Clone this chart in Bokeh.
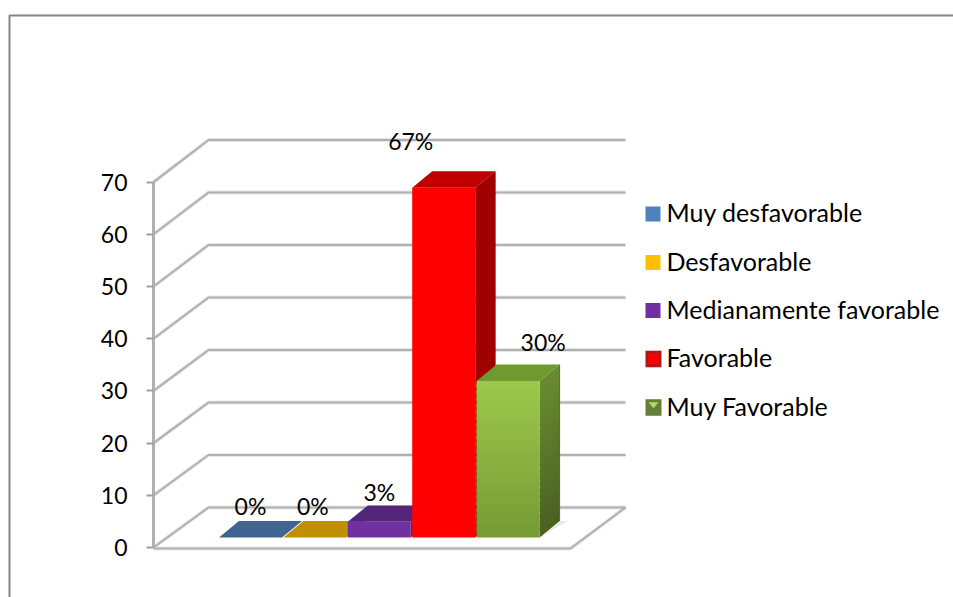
from bokeh.embed import file_html
from bokeh.resources import INLINE
from bokeh.plotting import figure
from bokeh.models import Range1d, LinearAxis, FixedTicker
from bokeh.core.properties import value

# Survey results
categories = ["Muy desfavorable", "Desfavorable", "Medianamente favorable", "Favorable", "Muy Favorable"]
values = [0, 0, 3, 67, 30]
y_ticks = [0, 10, 20, 30, 40, 50, 60, 70]

front_colors = ["#4f81bd", "#ffc000", "#7030a0", "#ff0000", "#9dc94b"]
front_bottom = ["#4f81bd", "#ffc000", "#7030a0", "#ff0000", "#779a35"]
top_colors = ["#3e648f", "#bf9000", "#54267a", "#c00000", "#6f9a30"]
side_colors = ["#3e648f", "#bf9000", "#54267a", "#a00000", "#6a8c30"]
side_bottom = ["#3e648f", "#bf9000", "#54267a", "#a00000", "#4a6022"]

W, H = 953, 597
FONT = "Lato"
FS = "25px"
FS_NUM = "23px"
Y0 = 547.0        # screen row of value 0 on the front plane
UNIT = 5.22       # pixels per unit of value, front plane
BACK_UNIT = 5.25  # pixels per unit of value, back plane
AX_X = 154.0      # screen column of the vertical axis
DEPTH_X, DEPTH_Y = 55.0, 40.0  # floor depth in pixels
FLOOR_W = 417.0
BAR_X0, BAR_STEP, BAR_W = 219.5, 64.4, 63.0
D0, D1 = 0.25, 0.66  # bar footprint as a share of the floor depth

p = figure(width=W, height=H, output_backend="svg", toolbar_location=None,
           x_range=Range1d(1, W + 1),
           y_range=Range1d((Y0 - H) / UNIT, Y0 / UNIT),
           min_border=0, outline_line_color=None, x_axis_location=None,
           y_axis_location=None, background_fill_color="white")
p.grid.visible = False


def lift(px):
    return px / UNIT


def soft_line(xs, ys, color="#b0b0b0", width=2.0):
    p.line(xs, ys, line_color=color, line_width=width + 2, line_alpha=0.3)
    p.line(xs, ys, line_color=color, line_width=width)


# Outer chart frame, cut by the page edges
top_v = (Y0 - 15) / UNIT
bot_v = (Y0 - H) / UNIT
p.line([10, 10, W + 1], [bot_v, top_v, top_v], line_color="#868686", line_width=2)

# Walls: one diagonal and one back line per tick
for t in y_ticks:
    back_v = lift(DEPTH_Y + t * BACK_UNIT)
    soft_line([AX_X, AX_X + DEPTH_X, AX_X + DEPTH_X + FLOOR_W], [t, back_v, back_v])

# Floor outline
soft_line([AX_X, AX_X + FLOOR_W, AX_X + FLOOR_W + DEPTH_X],
          [-0.2, -0.2, lift(DEPTH_Y)])


def fill_face(xs_fn, v, top, bottom, n=24):
    """Fill a face flat, or with stacked overlapping bands when its colour fades."""
    if top == bottom:
        xs, ys = xs_fn(0, v)
        p.patch(xs, ys, fill_color=top, line_color=None)
        return
    c0 = [int(top[i:i + 2], 16) for i in (1, 3, 5)]
    c1 = [int(bottom[i:i + 2], 16) for i in (1, 3, 5)]
    for k in range(n):
        f0, f1 = k / n, (k + 1) / n
        col = "#%02x%02x%02x" % tuple(round(a + (b - a) * (1 - (f0 + f1) / 2)) for a, b in zip(c0, c1))
        xs, ys = xs_fn(v * f0, v * min(1, f1 + 0.5 / n))
        p.patch(xs, ys, fill_color=col, line_color=None)


# Bars, drawn left to right so that each one covers its neighbour's side
for i, v in enumerate(values):
    x0 = BAR_X0 + BAR_STEP * i
    x1 = x0 + BAR_W
    dx = 20.0
    base = lift(D0 * DEPTH_Y)
    rise = lift((D1 - D0) * DEPTH_Y)

    # soft contact shadow on the floor beside the tall bars
    if v > 10:
        p.patch([x1, x1 + dx + 8, x1 + dx, x1],
                [base, base + rise, base + rise, base + rise],
                fill_color="#d9d9d9", fill_alpha=0.6, line_color=None)

    # top face
    p.patch([x0, x0 + dx, x1 + dx, x1],
            [base + v, base + rise + v, base + rise + v, base + v],
            fill_color=top_colors[i], line_color=None)
    if v > 0:
        # right side face
        fill_face(lambda a, b: ([x1, x1 + dx, x1 + dx, x1],
                                [base + a, base + rise + a, base + rise + b, base + b]),
                  v, side_colors[i], side_bottom[i])
        # a thin edge keeps the outer border of the side face clean
        p.line([x1 + dx, x1 + dx], [base + rise, base + rise + v],
               line_color=side_bottom[i], line_width=1, line_alpha=0.8)
        # front face
        fill_face(lambda a, b: ([x0, x1, x1, x0],
                                [base + a, base + a, base + b, base + b]),
                  v, front_colors[i], front_bottom[i])

# Value labels sit above their bars, nudged clear of the taller neighbours
nudge_x = [0, -2, 0, -33, 35]
nudge_y = [32, 32, 30, 47, 39]
label_x = [BAR_X0 + BAR_STEP * i + BAR_W / 2 + nudge_x[i] for i in range(len(values))]
label_y = [values[i] + lift(D0 * DEPTH_Y + nudge_y[i]) for i in range(len(values))]
p.text(label_x, label_y, text=[f"{v}%" for v in values],
       text_font=value(FONT), text_font_size=FS_NUM, text_color="#000000",
       text_align="center", text_baseline="middle")

# Legend
leg_y = [213.5, 262, 310, 358.5, 407]
leg_v = [(Y0 - y) / UNIT for y in leg_y]
text_v = [(Y0 - y + 2) / UNIT for y in leg_y]
half = lift(7.5)
for i, yv in enumerate(leg_v):
    if i == 3:
        p.patch([646, 662, 662, 646], [yv - half - .15, yv - half - .15, yv + half + .15, yv + half + .15],
                fill_color="#b01818", line_color=None)
        p.patch([649, 659, 659, 649], [yv - half * .7, yv - half * .7, yv + half * .7, yv + half * .7],
                fill_color="#ff0000", line_color=None)
    elif i == 4:
        p.patch([646, 662, 662, 646], [yv - half - .15, yv - half - .15, yv + half + .15, yv + half + .15],
                fill_color="#667f38", line_color=None)
        p.patch([649, 659, 654], [yv + half * .7, yv + half * .7, yv - half * .1],
                fill_color="#b4d86a", line_color=None)
    else:
        p.patch([646, 661, 661, 646], [yv - half, yv - half, yv + half, yv + half],
                fill_color=front_colors[i], line_color=None)
p.text([667] * 5, text_v, text=categories, text_font=value(FONT), text_font_size=FS,
       text_color="#000000", text_align="left", text_baseline="middle")

# Value axis stands at the front corner of the left wall
axis = LinearAxis(ticker=FixedTicker(ticks=y_ticks), fixed_location=AX_X, bounds=(0, 70),
                  axis_line_color="#b0b0b0", axis_line_width=3,
                  major_tick_line_color="#a0a0a0", major_tick_line_width=2,
                  major_tick_in=0, major_tick_out=7, minor_tick_line_color=None,
                  major_label_standoff=19,
                  major_label_text_font=FONT, major_label_text_font_size=FS_NUM,
                  major_label_text_color="#000000")
p.add_layout(axis, "left")

open("out.html", "w").write(file_html(p, INLINE))
